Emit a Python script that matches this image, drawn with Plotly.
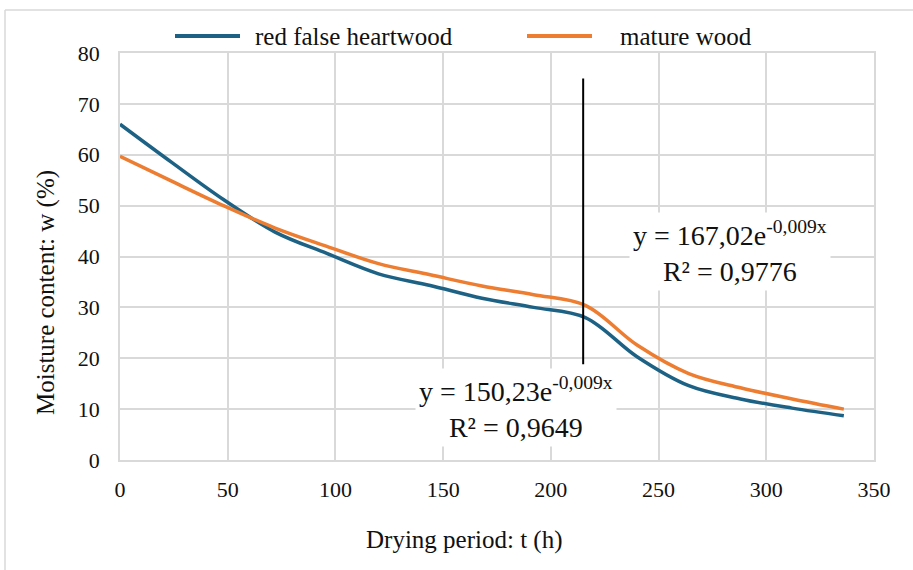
import plotly.graph_objects as go

# ---- data ----
t_hours = [0, 24, 48, 72, 96, 120, 144, 168, 192, 216, 240, 264, 288, 312, 336]
red_false_heartwood = [66.0, 58.5, 51.2, 44.8, 40.6, 36.6, 34.3, 31.8, 30.0, 28.0, 20.3, 14.6, 12.0, 10.2, 8.7]
mature_wood = [59.7, 54.8, 50.0, 45.6, 42.0, 38.6, 36.4, 34.2, 32.5, 30.4, 22.6, 17.0, 14.2, 12.0, 10.0]

series_names = ["red false heartwood", "mature wood"]
series_colors = ["#1D6284", "#ED7D31"]

marker_line_x = [215, 215]
marker_line_y = [18.8, 75.0]

eq_mature = "y = 167,02e<sup>-0,009x</sup><br>R² = 0,9776"
eq_mature_pos = (283, 40.9)
eq_red = "y = 150,23e<sup>-0,009x</sup><br>R² = 0,9649"
eq_red_pos = (184, 10.4)

x_ticks = [0, 50, 100, 150, 200, 250, 300, 350]
y_ticks = [0, 10, 20, 30, 40, 50, 60, 70, 80]

x_title = "Drying period: t (h)"
y_title = "Moisture content: w (%)"

FONT = "Times New Roman, Liberation Serif, DejaVu Serif, serif"
GRID = "#D9D9D9"

# ---- layout geometry (pixels) ----
W, H = 913, 570
L, R, T, B = 120, 39, 53, 110
PW, PH = W - L - R, H - T - B


def px(x):
    return (x - L) / PW


def py(y):
    return (H - B - y) / PH


fig = go.Figure()

for name, vals, col in zip(series_names, [red_false_heartwood, mature_wood], series_colors):
    fig.add_trace(go.Scatter(
        x=t_hours, y=vals, mode="lines", name=name,
        line=dict(color=col, width=3.5, shape="spline", smoothing=1.0),
        showlegend=False,
    ))

fig.add_trace(go.Scatter(
    x=marker_line_x, y=marker_line_y, mode="lines",
    line=dict(color="black", width=2), showlegend=False, hoverinfo="skip",
))

annotations = []
for txt, (ax_, ay_) in [(eq_mature, eq_mature_pos), (eq_red, eq_red_pos)]:
    annotations.append(dict(
        x=ax_, y=ay_, xref="x", yref="y", text=txt, showarrow=False,
        font=dict(family=FONT, size=28, color="#111111"),
        bgcolor="white", borderpad=3, align="center",
    ))

# axis titles
annotations.append(dict(x=px(464), y=py(540), xref="paper", yref="paper",
                        text=x_title, showarrow=False, xanchor="center", yanchor="middle",
                        font=dict(family=FONT, size=25, color="#111111")))
annotations.append(dict(x=px(46), y=py(293), xref="paper", yref="paper",
                        text=y_title, showarrow=False, xanchor="center", yanchor="middle",
                        textangle=-90,
                        font=dict(family=FONT, size=25, color="#111111")))

# custom legend
shapes = []
legend_items = [(175, 240, 253), (527, 592, 618)]
for (x0, x1, xt), name, col in zip(legend_items, series_names, series_colors):
    shapes.append(dict(type="line", xref="paper", yref="paper",
                       x0=px(x0), x1=px(x1), y0=py(36), y1=py(36),
                       line=dict(color=col, width=4)))
    annotations.append(dict(x=px(xt), y=py(36), xref="paper", yref="paper",
                            text=name, showarrow=False, xanchor="left", yanchor="middle",
                            font=dict(family=FONT, size=25, color="#111111")))

# outer chart frame (left and top edges visible)
shapes.append(dict(type="line", xref="paper", yref="paper",
                   x0=px(5), x1=px(5), y0=py(H + 20), y1=py(10),
                   line=dict(color=GRID, width=1.5)))
shapes.append(dict(type="line", xref="paper", yref="paper",
                   x0=px(5), x1=px(W + 20), y0=py(10), y1=py(10),
                   line=dict(color=GRID, width=1.5)))

fig.update_layout(
    width=W, height=H,
    margin=dict(l=L, r=R, t=T, b=B),
    paper_bgcolor="white", plot_bgcolor="white",
    font=dict(family=FONT, color="#111111"),
    annotations=annotations, shapes=shapes,
    showlegend=False,
)

fig.update_xaxes(
    range=[0, 350], tickvals=x_ticks, showgrid=True, gridcolor=GRID, gridwidth=1.5,
    showline=True, linecolor=GRID, linewidth=1.5, mirror=True, zeroline=False,
    ticks="", tickfont=dict(family=FONT, size=22), ticklabelstandoff=9,
)
fig.update_yaxes(
    range=[0, 80], tickvals=y_ticks, showgrid=True, gridcolor=GRID, gridwidth=1.5,
    showline=True, linecolor=GRID, linewidth=1.5, mirror=True, zeroline=False,
    ticks="", tickfont=dict(family=FONT, size=22), ticklabelstandoff=14,
)

fig.write_html("out.html")
